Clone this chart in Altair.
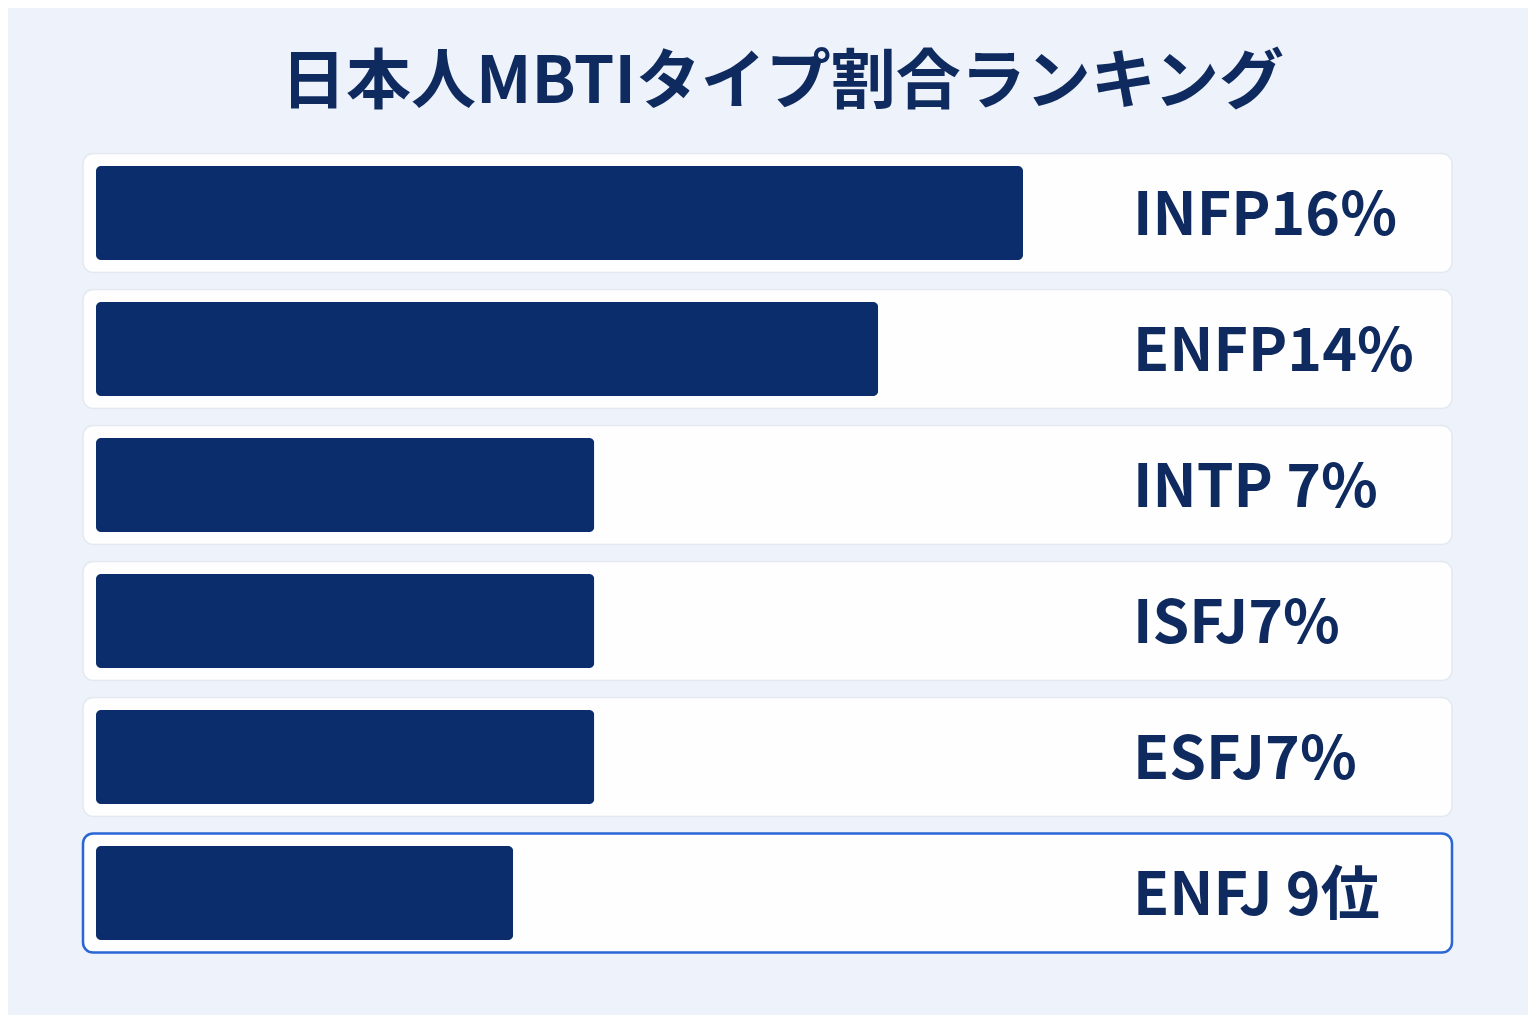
import altair as alt
import pandas as pd

title_text = "日本人MBTIタイプ割合ランキング"
types = ["INFP", "ENFP", "INTP", "ISFJ", "ESFJ", "ENFJ"]
labels = ["INFP16%", "ENFP14%", "INTP 7%", "ISFJ7%", "ESFJ7%", "ENFJ 9位"]
# bar lengths as drawn (same units as the percentages, INFP = 16)
bar_len = [16.0, 13.5, 8.6, 8.6, 8.6, 7.2]

df = pd.DataFrame({"type": types, "label": labels, "bar": bar_len})

W, H = 1369, 816
NAVY = "#0b2d6b"
TEXT = "#0e2a5e"
FONT = "Noto Sans CJK JP"
highlight = "datum.type == 'ENFJ'"

base = alt.Chart(df).encode(
    y=alt.Y("type:N", sort=types, axis=None,
            scale=alt.Scale(paddingInner=0.125, paddingOuter=0.0625))
)

# white cards behind each row
cards = base.mark_bar(cornerRadius=10, fill="#fefeff").encode(
    x=alt.value(0),
    x2=alt.value(W),
    stroke=alt.condition(highlight, alt.value("#2a66d6"), alt.value("#e3e8f1")),
    strokeWidth=alt.condition(highlight, alt.value(2.5), alt.value(1.5)),
)

bars = base.mark_bar(color=NAVY, cornerRadius=5, height=94).encode(
    x=alt.X("bar:Q", axis=None, scale=alt.Scale(domain=[0, 16], range=[13, 940]))
)

text = base.mark_text(
    align="left", baseline="middle", font=FONT, fontWeight="bold",
    fontSize=59, color=TEXT, dy=4
).encode(x=alt.value(1050), text="label:N")

chart = (cards + bars + text).properties(
    width=W,
    height=H,
    autosize=alt.AutoSizeParams(type="none"),
    padding={"left": 75, "top": 137, "right": 76, "bottom": 54},
    title=alt.TitleParams(
        title_text, font=FONT, fontSize=65, fontWeight="bold", color=TEXT,
        anchor="middle", dx=15, offset=28
    ),
).configure(background="#eef3fb").configure_view(stroke=None, fill=None)

chart.save("out.html", embed_options={"renderer": "svg", "actions": False})
